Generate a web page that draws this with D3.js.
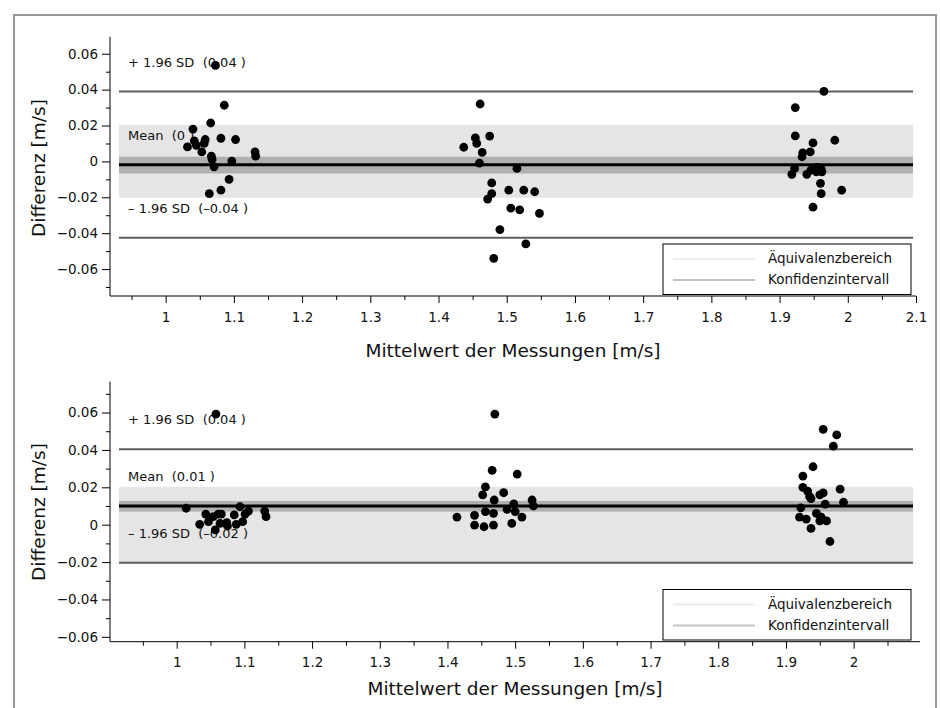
<!DOCTYPE html>
<html><head><meta charset="utf-8">
<script src="https://cdn.jsdelivr.net/npm/d3@7"></script>
<style>
html,body{margin:0;padding:0;background:#fff;}
svg{display:block;font-family:"DejaVu Sans",sans-serif;}
text{white-space:pre;}
</style></head>
<body>
<svg id="chart" width="940" height="708"></svg>
<script>
// ---------- data ----------
const xTicksTop = [1, 1.1, 1.2, 1.3, 1.4, 1.5, 1.6, 1.7, 1.8, 1.9, 2, 2.1];
const xTicksBottom = [1, 1.1, 1.2, 1.3, 1.4, 1.5, 1.6, 1.7, 1.8, 1.9, 2];
const yTicks = [-0.06, -0.04, -0.02, 0, 0.02, 0.04, 0.06];
const xTitle = "Mittelwert der Messungen [m/s]";
const yTitle = "Differenz [m/s]";
const legendLabels = ["Äquivalenzbereich", "Konfidenzintervall"];

const topX = [1.073,1.086,1.066,1.040,1.081,1.1025,1.042,1.058,1.045,1.032,1.0565,1.053,1.067,1.068,1.071,1.097,1.131,1.132,1.093,1.081,1.064,
  1.461,1.475,1.454,1.456,1.437,1.464,1.460,1.515,1.478,1.503,1.525,1.541,1.478,1.472,1.506,1.519,1.548,1.490,1.528,1.481,
  1.965,1.923,1.923,1.981,1.949,1.945,1.934,1.933,1.922,1.918,1.940,1.946,1.955,1.961,1.962,1.954,1.960,1.991,1.961,1.949];
const topY = [0.0535,0.0313,0.0214,0.0180,0.0129,0.0122,0.0114,0.0122,0.0090,0.0081,0.0100,0.0053,0.0029,0.0011,-0.0030,0.0002,0.0053,0.0029,-0.0100,-0.0160,-0.0180,
  0.0320,0.0141,0.0131,0.0100,0.0079,0.0050,-0.0009,-0.0039,-0.0120,-0.0160,-0.0160,-0.0169,-0.0180,-0.0210,-0.0260,-0.0270,-0.0290,-0.0380,-0.0460,-0.0540,
  0.0390,0.0300,0.0142,0.0118,0.0103,0.0053,0.0048,0.0026,-0.0039,-0.0072,-0.0072,-0.0048,-0.0033,-0.0044,-0.0058,-0.0058,-0.0122,-0.0160,-0.0180,-0.0255];

const bottomX = [1.058,1.014,1.034,1.043,1.047,1.054,1.0615,1.066,1.057,1.064,1.074,1.075,1.085,1.088,1.0935,1.0975,1.101,1.106,1.130,1.132,
  1.470,1.466,1.503,1.456,1.452,1.483,1.469,1.525,1.527,1.498,1.456,1.468,1.488,1.500,1.414,1.440,1.510,1.440,1.454,1.468,1.495,
  1.955,1.975,1.970,1.940,1.925,1.925,1.932,1.935,1.937,1.950,1.955,1.980,1.985,1.958,1.922,1.920,1.930,1.945,1.952,1.950,1.960,1.937,1.965];
const bottomY = [0.0592,0.0088,0.0002,0.0057,0.0016,0.0043,0.0057,0.0057,-0.0028,0.0007,0.0011,-0.0007,0.0052,0.0002,0.0096,0.0016,0.0057,0.0073,0.0073,0.0043,
  0.0592,0.0291,0.0271,0.0202,0.0159,0.0171,0.0132,0.0132,0.0100,0.0111,0.0070,0.0061,0.0082,0.0070,0.0041,0.0050,0.0041,-0.0002,-0.0011,-0.0002,0.0007,
  0.0510,0.0480,0.0420,0.0310,0.0260,0.0200,0.0180,0.0150,0.0140,0.0160,0.0170,0.0190,0.0120,0.0110,0.0090,0.0040,0.0030,0.0060,0.0040,0.0020,0.0020,-0.0020,-0.0090];

// statistics: [mean, upper LoA, lower LoA]
const topStats = [-0.0019, 0.0389, -0.0426];
const bottomStats = [0.0100, 0.0403, -0.0203];
const topCI = [-0.0067, 0.0026];
const bottomCI = [0.0070, 0.0127];
const topEquiv = [-0.0203, 0.0203];
const bottomEquiv = [-0.0203, 0.0203];
const topLabels = ["Mean  (0 )", "+ 1.96 SD  (0.04 )", "– 1.96 SD  (–0.04 )"];
const bottomLabels = ["Mean  (0.01 )", "+ 1.96 SD  (0.04 )", "– 1.96 SD  (–0.02 )"];

// ---------- layout ----------
const svg = d3.select("#chart");
svg.append("rect").attr("x",14).attr("y",15).attr("width",922).attr("height",760)
  .attr("fill","none").attr("stroke","#999").attr("stroke-width",2);

const panels = [
  {xs: topX, ys: topY, stats: topStats, ci: topCI, eq: topEquiv, labels: topLabels, xTicks: xTicksTop,
   left:110, right:916, top:36.7, bottom:296, xDom:[0.9184, 2.1], yDom:[-0.075, 0.0695],
   titleY:352, yTitleY:168, legendTop:244, bandL:119, bandR:913},
  {xs: bottomX, ys: bottomY, stats: bottomStats, ci: bottomCI, eq: bottomEquiv, labels: bottomLabels, xTicks: xTicksBottom,
   left:110, right:920, top:381.7, bottom:641.7, xDom:[0.9015, 2.098], yDom:[-0.0626, 0.0765],
   titleY:690, yTitleY:512, legendTop:589.5, bandL:119, bandR:913}
];

const yFmt = v => Math.abs(v) < 1e-9 ? "0" : d3.format(".2f")(v);

panels.forEach(p => {
  const x = d3.scaleLinear().domain(p.xDom).range([p.left, p.right]);
  const y = d3.scaleLinear().domain(p.yDom).range([p.bottom, p.top]);
  const g = svg.append("g");

  // equivalence band
  g.append("rect").attr("x", p.bandL).attr("width", p.bandR - p.bandL)
    .attr("y", y(p.eq[1])).attr("height", y(p.eq[0]) - y(p.eq[1]))
    .attr("fill", "#e5e5e5");
  // confidence band
  g.append("rect").attr("x", p.bandL).attr("width", p.bandR - p.bandL)
    .attr("y", y(p.ci[1])).attr("height", y(p.ci[0]) - y(p.ci[1]))
    .attr("fill", "#b0b0b0");
  // LoA lines
  [p.stats[1], p.stats[2]].forEach(v => {
    g.append("line").attr("x1", p.bandL).attr("x2", p.bandR).attr("y1", y(v)).attr("y2", y(v))
      .attr("stroke", "#5e5e5e").attr("stroke-width", 2);
  });
  // mean line
  g.append("line").attr("x1", p.bandL).attr("x2", p.bandR).attr("y1", y(p.stats[0])).attr("y2", y(p.stats[0]))
    .attr("stroke", "#000").attr("stroke-width", 3);

  // labels
  p.stats.forEach((v, i) => {
    g.append("text").attr("x", 128).attr("y", y(v) - 25).attr("font-size", 13)
      .attr("fill", "#111").text(p.labels[i]);
  });

  // axes
  const xMinor = d3.range(0.95, 2.06, 0.1);
  const yMinor = d3.range(-0.07, 0.075, 0.02).filter(v => v >= p.yDom[0] && v <= p.yDom[1]);
  const xAxis = g.append("g").attr("transform", `translate(0,${p.bottom})`)
    .call(d3.axisBottom(x).tickValues(p.xTicks).tickSize(7).tickPadding(9).tickFormat(d3.format("~g")));
  const xAxisMinor = g.append("g").attr("transform", `translate(0,${p.bottom})`)
    .call(d3.axisBottom(x).tickValues(xMinor).tickSize(4).tickFormat(""));
  xAxisMinor.select(".domain").remove();
  const yAxis = g.append("g").attr("transform", `translate(${p.left},0)`)
    .call(d3.axisLeft(y).tickValues(yTicks).tickSize(8).tickPadding(4).tickFormat(yFmt));
  const yAxisMinor = g.append("g").attr("transform", `translate(${p.left},0)`)
    .call(d3.axisLeft(y).tickValues(yMinor).tickSize(4).tickFormat(""));
  yAxisMinor.select(".domain").remove();
  [xAxis, yAxis].forEach(a => {
    a.select(".domain").attr("d", null);
  });
  xAxis.select(".domain").remove();
  yAxis.select(".domain").remove();
  g.append("line").attr("x1", p.left).attr("x2", p.right).attr("y1", p.bottom).attr("y2", p.bottom).attr("stroke", "#000");
  g.append("line").attr("x1", p.left).attr("x2", p.left).attr("y1", p.top).attr("y2", p.bottom).attr("stroke", "#000");
  g.selectAll(".tick text").attr("font-size", 13.5).attr("font-family", "DejaVu Sans").attr("fill", "#111");

  // titles
  g.append("text").attr("x", (p.left + p.right) / 2 - 0).attr("y", p.titleY).attr("text-anchor", "middle")
    .attr("dominant-baseline", "middle").attr("font-size", 18.5).attr("fill", "#111").text(xTitle);
  g.append("text").attr("transform", `translate(40,${p.yTitleY}) rotate(-90)`).attr("text-anchor", "middle")
    .attr("dominant-baseline", "middle").attr("font-size", 18.5).attr("fill", "#111").text(yTitle);

  // points
  g.append("g").selectAll("circle").data(p.xs.map((v, i) => [v, p.ys[i]])).join("circle")
    .attr("cx", d => x(d[0])).attr("cy", d => y(d[1])).attr("r", 4.4).attr("fill", "#000");

  // legend
  const lg = g.append("g").attr("transform", `translate(663,${p.legendTop})`);
  lg.append("rect").attr("width", 248).attr("height", 50.5).attr("fill", "#fff").attr("stroke", "#000").attr("stroke-width", 1);
  const legendColors = ["#ececec", "#c4c4c4"];
  legendLabels.forEach((t, i) => {
    const ly = 15 + i * 21;
    lg.append("line").attr("x1", 10).attr("x2", 92).attr("y1", ly).attr("y2", ly)
      .attr("stroke", legendColors[i]).attr("stroke-width", 2);
    lg.append("text").attr("x", 105).attr("y", ly).attr("dominant-baseline", "middle")
      .attr("font-size", 13.5).attr("fill", "#111").text(t);
  });
});
</script>
</body></html>
